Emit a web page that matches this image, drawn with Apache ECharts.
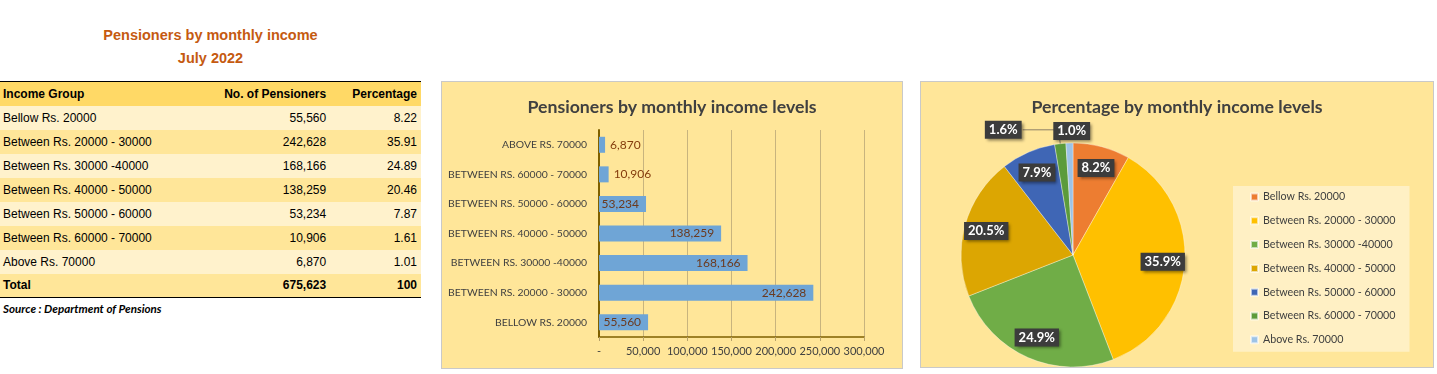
<!DOCTYPE html>
<html>
<head>
<meta charset="utf-8">
<script src="https://cdn.jsdelivr.net/npm/echarts@6/dist/echarts.min.js"></script>
<style>
  html, body { margin: 0; padding: 0; background: #ffffff; width: 1437px; height: 374px; overflow: hidden; }
  #tbl { position: absolute; left: 0; top: 0; width: 421px; font-family: "Liberation Sans", Arial, sans-serif; }
  .ttl { position: absolute; left: 0; width: 421px; text-align: center; color: #C55A11; font-weight: bold; font-size: 14.5px; }
  table { position: absolute; left: 0; top: 81px; border-collapse: collapse; width: 421px; font-size: 12px; color: #000; }
  td { height: 24px; padding: 0; box-sizing: border-box; white-space: nowrap; }
  td.c1 { width: 225px; padding-left: 3px; text-align: left; }
  td.c2 { width: 107px; padding-right: 6px; text-align: right; }
  td.c3 { width: 89px; padding-right: 4px; text-align: right; }
  tr.hd td { background: #FFD966; font-weight: bold; border-top: 1.5px solid #000; }
  tr.lt td { background: #FFF2CC; }
  tr.dk td { background: #FFE699; }
  tr.tot td { background: #FFE699; font-weight: bold; border-bottom: 1px solid #000; }
  #src { position: absolute; left: 3px; top: 302px; font-family: Lato, sans-serif; font-style: italic; font-weight: bold; font-size: 11.6px; color: #000; }
  .panel { position: absolute; box-sizing: border-box; background: #FFE699; border: 1px solid #C9C9C9; }
  #bar { left: 441px; top: 81px; width: 462px; height: 288px; }
  #pie { left: 920px; top: 81px; width: 514px; height: 287px; }
</style>
</head>
<body>
<div id="tbl">
  <div class="ttl" style="top:27px">Pensioners by monthly income</div>
  <div class="ttl" style="top:50px">July 2022</div>
  <table id="t"></table>
  <div id="src">Source : Department of Pensions</div>
</div>
<div id="bar" class="panel"></div>
<div id="pie" class="panel"></div>
<script>
// ---- data ----
const categories = [
  'Bellow Rs. 20000',
  'Between Rs. 20000 - 30000',
  'Between Rs. 30000 -40000',
  'Between Rs. 40000 - 50000',
  'Between Rs. 50000 - 60000',
  'Between Rs. 60000 - 70000',
  'Above Rs. 70000'
];
const pensioners = [55560, 242628, 168166, 138259, 53234, 10906, 6870];
const percentages = [8.22, 35.91, 24.89, 20.46, 7.87, 1.61, 1.01];
const tableHeaders = ['Income Group', 'No. of Pensioners', 'Percentage'];
const totalLabel = 'Total';
const totalPensioners = 675623;
const totalPercentage = '100';
const barTitle = 'Pensioners by monthly income levels';
const pieTitle = 'Percentage by monthly income levels';
const xTickMin = 0, xTickMax = 300000, xTickStep = 50000;
const pieColors = ['#ED7D31', '#FFC000', '#70AD47', '#DCA602', '#3F66B5', '#5B9B3B', '#9DC3E6'];

const fmt = v => v.toLocaleString('en-US');

// ---- table ----
(function () {
  const t = document.getElementById('t');
  let html = '<tr class="hd"><td class="c1">' + tableHeaders[0] + '</td><td class="c2">' + tableHeaders[1] +
             '</td><td class="c3">' + tableHeaders[2] + '</td></tr>';
  categories.forEach((c, i) => {
    html += '<tr class="' + (i % 2 === 0 ? 'lt' : 'dk') + '"><td class="c1">' + c + '</td><td class="c2">' +
            fmt(pensioners[i]) + '</td><td class="c3">' + percentages[i].toFixed(2) + '</td></tr>';
  });
  html += '<tr class="tot"><td class="c1">' + totalLabel + '</td><td class="c2">' + fmt(totalPensioners) +
          '</td><td class="c3">' + totalPercentage + '</td></tr>';
  t.innerHTML = html;
})();

const FONT = 'Lato, "Open Sans", sans-serif';

// ---- bar chart ----
const barChart = echarts.init(document.getElementById('bar'), null, { renderer: 'canvas' });
barChart.setOption({
  animation: false,
  textStyle: { fontFamily: FONT },
  title: {
    text: barTitle, left: 'center', top: 11,
    textStyle: { fontSize: 17.7, fontWeight: 'bold', color: '#404040', fontFamily: FONT }
  },
  grid: { left: 157, right: 38, top: 48, bottom: 31, containLabel: false, outerBoundsMode: 'none' },
  xAxis: {
    type: 'value', min: xTickMin, max: xTickMax, interval: xTickStep,
    axisLine: { show: true, onZero: false, lineStyle: { color: '#7F6000', width: 1.5 } },
    axisTick: { show: true, length: 4, lineStyle: { color: '#B8A26A' } },
    splitLine: { show: true, lineStyle: { color: '#C8B47E', width: 1 } },
    axisLabel: { margin: 9, fontSize: 11, color: '#404040', fontFamily: FONT,
      formatter: v => v === 0 ? '-' : fmt(v) }
  },
  yAxis: {
    type: 'category', data: categories,
    axisLine: { show: true, onZero: false, lineStyle: { color: '#7F6000', width: 2 } },
    axisTick: { show: false },
    axisLabel: { margin: 12, fontSize: 10.4, color: '#404040', fontFamily: FONT,
      formatter: v => v.toUpperCase() }
  },
  series: [{
    type: 'bar',
    barWidth: 16,
    itemStyle: { color: '#6FA5D6' },
    label: { show: true, position: 'insideRight', distance: 7, fontSize: 12, color: '#6B3A1F', fontFamily: FONT,
      formatter: p => fmt(p.value) },
    data: pensioners.map(v => v < 30000
      ? { value: v, label: { position: 'right', distance: 5, color: '#843C0C' } }
      : { value: v })
  }]
});

// ---- pie chart ----
const pieChart = echarts.init(document.getElementById('pie'), null, { renderer: 'canvas' });
const pieData = categories.map((c, i) => ({ name: c, value: percentages[i], itemStyle: { color: pieColors[i] } }));
const labelBox = {
  show: true, color: '#ffffff', fontWeight: 'bold', fontSize: 13, fontFamily: FONT,
  backgroundColor: '#3C3C3C', padding: [3, 4, 2, 4],
  shadowColor: 'rgba(0,0,0,0.45)', shadowBlur: 3, shadowOffsetX: 2, shadowOffsetY: 2,
  formatter: p => p.value.toFixed(1) + '%'
};
pieChart.setOption({
  animation: false,
  textStyle: { fontFamily: FONT },
  title: {
    text: pieTitle, left: 'center', top: 11,
    textStyle: { fontSize: 17.7, fontWeight: 'bold', color: '#404040', fontFamily: FONT }
  },
  legend: {
    orient: 'vertical', left: 312, top: 104,
    padding: [4, 14, 5, 17], itemGap: 9.8,
    itemWidth: 7, itemHeight: 7, icon: 'rect',
    backgroundColor: 'rgba(255,255,255,0.42)',
    textStyle: { fontSize: 10.7, lineHeight: 14, color: '#404040', fontFamily: FONT },
    data: categories
  },
  series: [{
    type: 'pie', name: 'main',
    center: [152, 173], radius: [0, 112],
    startAngle: 90, clockwise: true,
    label: { show: false }, labelLine: { show: false },
    itemStyle: { borderColor: 'rgba(255,255,255,0.6)', borderWidth: 0.6 },
    emphasis: { disabled: true },
    data: pieData
  }, {
    type: 'pie', name: 'labels', silent: true,
    center: [152, 173], radius: [62, 112],
    startAngle: 90, clockwise: true, avoidLabelOverlap: false,
    itemStyle: { color: 'rgba(0,0,0,0)' },
    label: Object.assign({ position: 'inside' }, labelBox),
    labelLine: { show: false },
    emphasis: { disabled: true },
    labelLayout: p => {
      if (p.dataIndex === 6) return { dx: 26, dy: -2 };
      return {};
    },
    data: categories.map((c, i) => {
      const d = { name: c, value: percentages[i], itemStyle: { color: 'rgba(0,0,0,0)' } };
      if (i === 5) {
        d.label = { position: 'outside', distanceToLabelLine: 1 };
        d.labelLine = { show: true, length: 14, length2: 36, lineStyle: { color: '#8C7F66', width: 1 } };
      }
      if (i === 6) {
        d.label = { position: 'outside' };
        d.labelLine = { show: false, length: 10, length2: 0 };
      }
      return d;
    })
  }]
});
</script>
</body>
</html>
